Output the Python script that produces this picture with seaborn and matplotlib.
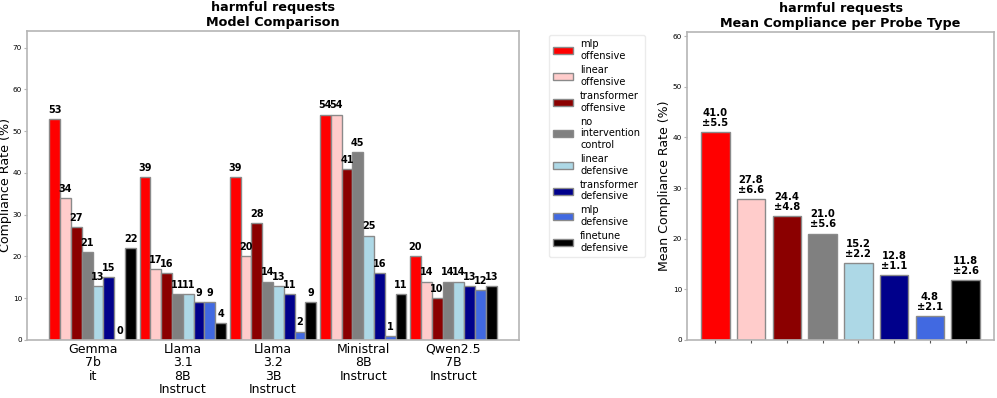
import matplotlib
matplotlib.use("Agg")
import matplotlib.pyplot as plt
from matplotlib.patches import Patch
import seaborn as sns
import pandas as pd

# ---------------- data ----------------
models = ["Gemma\n7b\nit", "Llama\n3.1\n8B\nInstruct", "Llama\n3.2\n3B\nInstruct",
          "Ministral\n8B\nInstruct", "Qwen2.5\n7B\nInstruct"]
probes = ["mlp\noffensive", "linear\noffensive", "transformer\noffensive",
          "no\nintervention\ncontrol", "linear\ndefensive", "transformer\ndefensive",
          "mlp\ndefensive", "finetune\ndefensive"]
colors = ["#ff0000", "#ffcccb", "#8b0000", "#808080", "#add8e6", "#00008b", "#4169e1", "#000000"]

gemma = [53, 34, 27, 21, 13, 15, 0, 22]
llama31 = [39, 17, 16, 11, 11, 9, 9, 4]
llama32 = [39, 20, 28, 14, 13, 11, 2, 9]
ministral = [54, 54, 41, 45, 25, 16, 1, 11]
qwen = [20, 14, 10, 14, 14, 13, 12, 13]

mean_rates = [41.0, 27.8, 24.4, 21.0, 15.2, 12.8, 4.8, 11.8]
sem_rates = [5.5, 6.6, 4.8, 5.6, 2.2, 1.1, 2.1, 2.6]

left_yticks = [0, 10, 20, 30, 40, 50, 60, 70]
right_yticks = [0, 10, 20, 30, 40, 50, 60]

# ---------------- build frames ----------------
rows = []
for m, vals in zip(models, [gemma, llama31, llama32, ministral, qwen]):
    for p, v in zip(probes, vals):
        rows.append({"model": m, "probe": p, "value": v})
df = pd.DataFrame(rows)
df2 = pd.DataFrame({"probe": probes, "mean": mean_rates, "sem": sem_rates})
pal = dict(zip(probes, colors))

W, H = 997, 398
fig = plt.figure(figsize=(W / 100, H / 100), dpi=100)
ax1 = fig.add_axes([27 / W, 1 - 340 / H, (519 - 27) / W, (340 - 31) / H])
ax2 = fig.add_axes([687 / W, 1 - 340 / H, (994 - 687) / W, (340 - 32) / H])

spine_c = "#b5b5b5"
edge_c = "#8a8a8a"

# ---------------- left: model comparison ----------------
sns.barplot(data=df, x="model", y="value", hue="probe", hue_order=probes,
            order=models, palette=pal, saturation=1, width=0.96, gap=0,
            edgecolor=edge_c, linewidth=1, errorbar=None, legend=False, ax=ax1)
for cont, p in zip(ax1.containers, probes):
    vals = df[df.probe == p].set_index("model").loc[models, "value"].tolist()
    ax1.bar_label(cont, labels=[f"{v:.0f}" for v in vals], padding=3,
                  fontsize=7, fontweight="bold")
ax1.set_xlim(-0.728, 4.728)
ax1.set_ylim(0, 74)
ax1.set_yticks(left_yticks)
ax1.set_xlabel("")
ax1.set_ylabel("Compliance Rate (%)", fontsize=9.1, labelpad=0.8)
ax1.set_title("harmful requests\nModel Comparison", fontsize=9.2, fontweight="bold", pad=3.5)
ax1.tick_params(axis="x", labelsize=9, length=0, pad=2)
for lab in ax1.get_xticklabels():
    lab.set_linespacing(1.05)
ax1.tick_params(axis="y", labelsize=5.2, length=2, color=spine_c, pad=1.5)

# ---------------- right: mean per probe ----------------
sns.barplot(data=df2, x="probe", y="mean", hue="probe", order=probes, hue_order=probes,
            palette=pal, saturation=1, width=0.8, edgecolor=edge_c, linewidth=1,
            errorbar=None, legend=False, ax=ax2)
for cont, m, s in zip(ax2.containers, mean_rates, sem_rates):
    ax2.bar_label(cont, labels=[f"{m:.1f}\n±{s:.1f}"], padding=3,
                  fontsize=7.2, fontweight="bold", linespacing=1.0)
ax2.set_xlim(-0.79, 7.79)
ax2.set_ylim(0, 60.8)
ax2.set_yticks(right_yticks)
ax2.set_xticks(range(len(probes)))
ax2.set_xticklabels([""] * len(probes))
ax2.set_xlabel("")
ax2.set_ylabel("Mean Compliance Rate (%)", fontsize=9, labelpad=1.5)
ax2.set_title("harmful requests\nMean Compliance per Probe Type", fontsize=9.2,
              fontweight="bold", pad=3.5)
ax2.tick_params(axis="x", length=2.5, color="#555555")
ax2.tick_params(axis="y", labelsize=5.2, length=2, color=spine_c, pad=1.5)

for ax in (ax1, ax2):
    ax.grid(False)
    for sp in ax.spines.values():
        sp.set_color(spine_c)
        sp.set_linewidth(1.2)

# ---------------- legend ----------------
handles = [Patch(facecolor=c, edgecolor=edge_c, linewidth=1) for c in colors]
fig.legend(handles, probes, loc="upper left", bbox_to_anchor=(549 / W, 1 - 35 / H),
           fontsize=7.1, frameon=True, edgecolor="#e6e6e6", fancybox=True,
           labelspacing=0.42, handlelength=2.0, handletextpad=0.7,
           borderpad=0.45, borderaxespad=0)

fig.savefig("out.png", dpi=100)
